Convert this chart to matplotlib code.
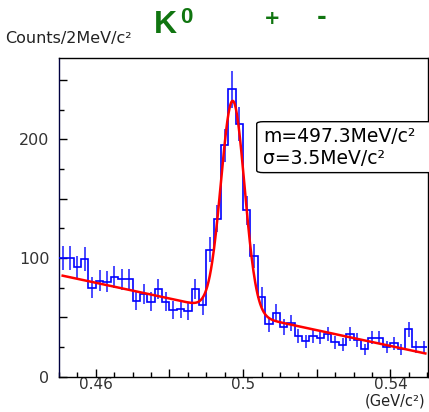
import numpy as np
import matplotlib
matplotlib.use('Agg')
import matplotlib.pyplot as plt
from matplotlib.patches import FancyBboxPatch
from matplotlib.ticker import MultipleLocator

# histogram: 2 MeV bins from 0.45 to 0.55 GeV
edges = np.linspace(0.45, 0.55, 51)
counts = [100, 100, 92, 99, 75, 81, 80, 84, 82, 82,
          64, 70, 63, 74, 63, 56, 57, 55, 74, 60,
          107, 133, 195, 242, 213, 140, 102, 67, 44, 54,
          42, 45, 34, 30, 34, 33, 36, 29, 27, 36,
          31, 23, 33, 33, 25, 28, 23, 40, 25, 25]

# fit: gaussian + linear background
fit_amp = 178.0
fit_mean = 0.4972
fit_sigma = 0.0032
bg_at_05 = 52.5
bg_slope = -665.0
fit_range = (0.451, 0.5495)

GREEN = '#107510'

fig = plt.figure(figsize=(4.29, 4.12), dpi=100)
ax = fig.add_axes([59 / 429, 35.3 / 412, (428.3 - 59) / 429, (376.7 - 57.7) / 412])

counts = np.array(counts, dtype=float)
centers = 0.5 * (edges[:-1] + edges[1:])

ax.errorbar(centers, counts, yerr=np.sqrt(counts), fmt='none',
            ecolor='#2b2bff', elinewidth=1.2, capsize=0, zorder=2)
ax.stairs(counts, edges, baseline=None, color='#0000ff', lw=1.2, zorder=3)

xf = np.linspace(fit_range[0], fit_range[1], 600)
yf = bg_at_05 + bg_slope * (xf - 0.5) + fit_amp * np.exp(-0.5 * ((xf - fit_mean) / fit_sigma) ** 2)
ax.plot(xf, yf, color='#ff0000', lw=1.8, zorder=4)

ax.set_xlim(0.45, 0.5503)
ax.set_ylim(0, 268.7)

ax.xaxis.set_minor_locator(MultipleLocator(0.005))
ax.yaxis.set_minor_locator(MultipleLocator(25))
ax.set_xticks([0.46, 0.48, 0.5, 0.52, 0.54])
ax.set_xticklabels(['0.46', '', '0.5', '', '0.54'])
ax.set_yticks([0, 50, 100, 150, 200, 250])
ax.set_yticklabels(['0', '', '100', '', '200', ''])

ax.tick_params(which='both', direction='in', top=False, right=False,
               labelsize=11.5, labelcolor='#333333', color='black')
ax.tick_params(which='major', length=6, width=1)
ax.tick_params(which='minor', length=3.5, width=1)
ax.tick_params(axis='x', pad=0.5, labelsize=11)
ax.tick_params(axis='y', pad=7)

for side in ['left', 'bottom', 'top', 'right']:
    ax.spines[side].set_linewidth(1.0)
ax.spines['left'].set_color('#000040')

# fit result box (runs off the right edge)
box = FancyBboxPatch((0.5037, 171.9), 0.06, 42.9,
                     boxstyle='round,pad=0,rounding_size=0.0018',
                     mutation_aspect=42.9 / 0.0045 / 9.5,
                     transform=ax.transData, clip_on=False,
                     fc='white', ec='black', lw=1.0, zorder=5)
ax.add_patch(box)
fig.text(263 / 429, 1 - 141.7 / 412, 'm=497.3MeV/c\u00b2', fontsize=13.5,
         va='baseline', ha='left', color='black', zorder=6)
fig.text(263 / 429, 1 - 164 / 412, '\u03c3=3.5MeV/c\u00b2', fontsize=13.5,
         va='baseline', ha='left', color='black', zorder=6)

# title (greek glyphs missing in the original)
fig.text(154 / 429, 1 - 33 / 412, 'K', fontsize=23, fontweight='bold',
         family='Liberation Sans', color=GREEN, va='baseline', ha='left')
fig.text(180 / 429, 1 - 23 / 412, '0', fontsize=16, fontweight='bold',
         family='Liberation Sans', color=GREEN, va='baseline', ha='left')
fig.text(272 / 429, 1 - 19 / 412, '+', fontsize=14, fontweight='bold',
         color=GREEN, va='center', ha='center')
fig.text(322 / 429, 1 - 17 / 412, '-', fontsize=17, fontweight='bold',
         color=GREEN, va='center', ha='center')

fig.text(5 / 429, 1 - 43 / 412, 'Counts/2MeV/c\u00b2', fontsize=11.5,
         color='#222222', va='baseline', ha='left')
fig.text(425 / 429, 1 - 401 / 412, '(GeV/c\u00b2)', fontsize=10.5,
         color='#222222', va='center', ha='right')

fig.savefig('out.png', dpi=100)
